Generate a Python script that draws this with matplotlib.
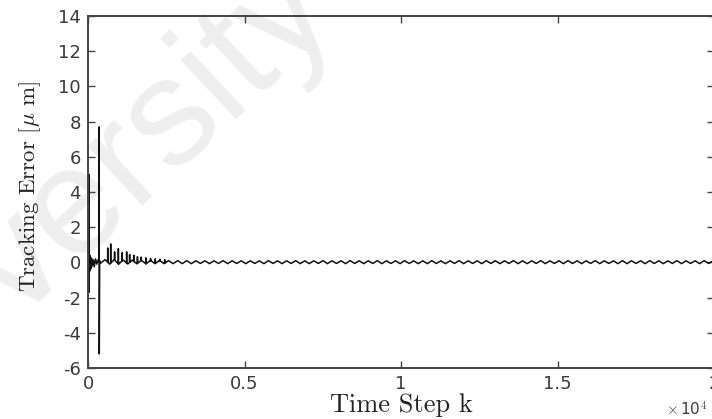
import numpy as np
import matplotlib
matplotlib.use("Agg")
import matplotlib.pyplot as plt

# ---- data: tracking error over time steps ----
# start-up transient (time step, error in um)
transient_k = [0, 10, 20, 30, 31, 40, 55, 70, 90, 110, 140, 170, 200, 240, 280, 320, 350, 358, 360, 372, 400]
transient_e = [0.0, 0.45, -0.6, 5.0, -1.7, 0.35, -0.5, 0.4, -0.35, 0.25, -0.2, 0.15, -0.25, 0.2, -0.1, 0.15, 0.05, 7.7, -5.2, 0.1, -0.05]

# decaying spikes after the transient (time step, peak error in um)
spike_k = [630, 725, 850, 970, 1090, 1235, 1330, 1470, 1580, 1700, 1850, 2000, 2150, 2300, 2450]
spike_e = [0.82, 1.05, 0.6, 0.78, 0.55, 0.6, 0.45, 0.4, 0.32, 0.3, 0.26, 0.22, 0.2, 0.18, 0.15]

# steady ripple: one trough/crest pair per period
ripple_start = 400
ripple_period = 290
ripple_lo = [-0.12, -0.10, -0.10, -0.09, -0.08, -0.08, -0.07, -0.07, -0.07, -0.07,
             -0.07, -0.06, -0.07, -0.06, -0.07, -0.06, -0.07, -0.06, -0.07, -0.06,
             -0.07, -0.06, -0.07, -0.07, -0.06, -0.07, -0.06, -0.07, -0.06, -0.07,
             -0.06, -0.07, -0.06, -0.07, -0.06, -0.07, -0.07, -0.06, -0.07, -0.06,
             -0.07, -0.06, -0.07, -0.06, -0.07, -0.06, -0.07, -0.07, -0.06, -0.07,
             -0.06, -0.07, -0.06, -0.07, -0.06, -0.07, -0.06, -0.07, -0.07, -0.06,
             -0.07, -0.06, -0.07, -0.06, -0.07, -0.06, -0.07, -0.06]
ripple_hi = [0.16, 0.15, 0.14, 0.13, 0.12, 0.11, 0.11, 0.10, 0.10, 0.10,
             0.09, 0.09, 0.09, 0.10, 0.09, 0.09, 0.09, 0.09, 0.10, 0.09,
             0.09, 0.10, 0.09, 0.09, 0.10, 0.09, 0.09, 0.10, 0.09, 0.09,
             0.10, 0.09, 0.09, 0.10, 0.09, 0.09, 0.10, 0.09, 0.09, 0.10,
             0.09, 0.09, 0.10, 0.09, 0.09, 0.10, 0.09, 0.09, 0.10, 0.09,
             0.09, 0.10, 0.09, 0.09, 0.10, 0.09, 0.09, 0.10, 0.09, 0.09,
             0.10, 0.09, 0.09, 0.10, 0.09, 0.09, 0.10, 0.09]

x_ticks = [0, 5000, 10000, 15000, 20000]
x_ticklabels = ["0", "0.5", "1", "1.5", "2"]
y_ticks = [-6, -4, -2, 0, 2, 4, 6, 8, 10, 12, 14]

# ---- assemble the trace ----
rk, re = [], []
for i, (lo, hi) in enumerate(zip(ripple_lo, ripple_hi)):
    k0 = ripple_start + i * ripple_period
    rk += [k0, k0 + ripple_period / 2]
    re += [lo, hi]
rk.append(20000)
re.append(ripple_lo[-1])
rk = np.array(rk, float)
re = np.array(re, float)

pts = list(zip(transient_k, transient_e)) + list(zip(rk[rk > 400], re[rk > 400]))
for k, v in zip(spike_k, spike_e):
    base = float(np.interp(k, rk, re))
    pts += [(k - 4, base), (k, v), (k + 4, base)]
pts.sort(key=lambda p: p[0])
trace_k = np.array([p[0] for p in pts])
trace_e = np.array([p[1] for p in pts])

# ---- figure ----
plt.rcParams["mathtext.fontset"] = "cm"
W, H = 712, 419
fig = plt.figure(figsize=(W / 100, H / 100), dpi=100)
fig.patch.set_facecolor("white")

# faint watermark behind the plot
fig.text(18 / W, 1 - 322 / H, "versity", fontsize=110, rotation=43, color="#eeeeee",
         family="Liberation Sans", ha="left", va="baseline", rotation_mode="anchor", zorder=-5)

ax = fig.add_axes([88 / W, (H - 368) / H, (714 - 88) / W, (368 - 16) / H])
ax.set_zorder(2)
ax.set_facecolor("none")
ax.plot(trace_k, trace_e, color="#111111", lw=1.1, solid_joinstyle="round")

ax.set_xlim(0, 20000)
ax.set_ylim(-6, 14)
ax.set_xticks(x_ticks)
ax.set_xticklabels(x_ticklabels)
ax.set_yticks(y_ticks)
ax.set_yticklabels([str(t) for t in y_ticks])

spine_col = "#444444"
for s in ax.spines.values():
    s.set_color(spine_col)
    s.set_linewidth(1.4)
ax.tick_params(direction="in", length=5, width=1.0, color=spine_col,
               top=True, right=True, labelsize=13, labelcolor="#3a3a3a", pad=5)
for lab in ax.get_xticklabels() + ax.get_yticklabels():
    lab.set_family("DejaVu Sans")

ax.set_xlabel("Time Step k", family="cmr10", fontsize=19, color="#222222")
ax.xaxis.set_label_coords((401 - 88) / (714 - 88), -(405 - 368) / (368 - 16), transform=ax.transAxes)
ax.xaxis.label.set_va("center")
ax.set_ylabel(r"Tracking Error [$\mu$ m]", family="cmr10", fontsize=16.5, color="#222222")
ax.yaxis.set_label_coords(-(88 - 30) / (714 - 88), (368 - 186) / (368 - 16), transform=ax.transAxes)
ax.yaxis.label.set_va("center")

fig.text(666 / W, 1 - 410 / H, r"$\times\,$10$^4$", fontsize=11, color="#3a3a3a",
         family="DejaVu Sans", ha="left", va="center")

fig.savefig("out.png", dpi=100)
